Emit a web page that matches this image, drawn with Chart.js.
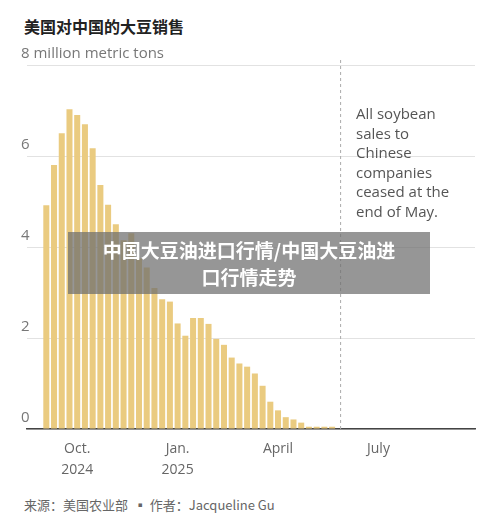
<!DOCTYPE html>
<html><head><meta charset="utf-8">
<script src="https://cdn.jsdelivr.net/npm/chart.js@4"></script>
<style>
body{margin:0;width:500px;height:527px;background:#fff;font-family:"Noto Sans CJK SC","Noto Sans",sans-serif;position:relative;overflow:hidden}
#title{position:absolute;left:24px;top:14px;font-size:16px;font-weight:bold;color:#222}
#wrap{position:absolute;left:0;top:36px;width:500px;height:455px}
#note{position:absolute;left:356px;top:104px;font-size:15px;line-height:19.5px;color:#555;font-family:"Open Sans",sans-serif}
#src{position:absolute;left:24px;top:495px;font-size:13px;color:#666}
#mark{position:absolute;left:68px;top:232px;width:362px;height:62px;background:rgba(110,110,110,0.72);color:#fff;font-weight:bold;font-size:19px;text-align:center;line-height:27px;padding-top:4px;box-sizing:border-box}
</style></head><body>
<div id="title">美国对中国的大豆销售</div>
<div id="wrap"><canvas id="c"></canvas></div>
<div id="note">All soybean<br>sales to<br>Chinese<br>companies<br>ceased at the<br>end of May.</div>
<div id="src">来源：美国农业部 &nbsp;▪ 作者：Jacqueline Gu</div>
<div id="mark">中国大豆油进口行情/中国大豆油进<br>口行情走势</div>
<script>
const sales = [4.92,5.8,6.5,7.03,6.9,6.7,6.17,5.36,4.93,4.5,4.15,4.3,3.75,3.55,3.1,2.85,2.8,2.32,2.05,2.44,2.44,2.31,1.98,1.85,1.57,1.44,1.37,1.22,0.95,0.6,0.41,0.26,0.21,0.14,0.05,0.05,0.05,0.05];
const leadSlots = 2, tailSlots = 18;
const yTicks = [0,2,4,6,8];
const monthTicks = {6:['Oct.','2024'],19:['Jan.','2025'],32:['April'],45:['July']};
const cutoffSlot = leadSlots + sales.length + 0.1;

const values = [...Array(leadSlots).fill(null), ...sales, ...Array(tailSlots).fill(null)];
const labels = values.map((_, i) => i);

const cutoff = {
  id:'cutoff',
  afterDatasetsDraw(ch){
    const x = ch.scales.x.getPixelForValue(cutoffSlot);
    const c = ch.ctx; c.save();
    c.strokeStyle='#aaa'; c.lineWidth=1; c.setLineDash([3,3]);
    c.beginPath(); c.moveTo(x, ch.chartArea.top-5); c.lineTo(x, ch.chartArea.bottom); c.stroke();
    c.restore();
  }
};

new Chart(document.getElementById('c'), {
  type:'bar',
  data:{labels, datasets:[{data:values, backgroundColor:'#EACB80', barPercentage:0.78, categoryPercentage:1}]},
  options:{
    responsive:true, maintainAspectRatio:false, animation:false,
    layout:{padding:{left:27, right:25, top:29, bottom:0}},
    plugins:{legend:{display:false}, tooltip:{enabled:false}},
    scales:{
      x:{
        grid:{display:false, drawTicks:false},
        border:{color:'#444', width:1.5},
        ticks:{autoSkip:false, maxRotation:0, color:'#666', font:{size:14, family:'Open Sans', lineHeight:1.5}, padding:10,
          callback:(v,i)=>monthTicks[i] || ''}
      },
      y:{
        min:0, max:8,
        afterBuildTicks:a=>{a.ticks = yTicks.map(v=>({value:v}));},
        grid:{color:'#e2e2e2', drawTicks:false},
        border:{display:false},
        ticks:{mirror:true, labelOffset:-11, padding:-2, color:'#777', font:{size:15, family:'Open Sans'},
          callback:v=>v===8 ? '8 million metric tons' : v}
      }
    }
  },
  plugins:[cutoff]
});
</script>
</body></html>
